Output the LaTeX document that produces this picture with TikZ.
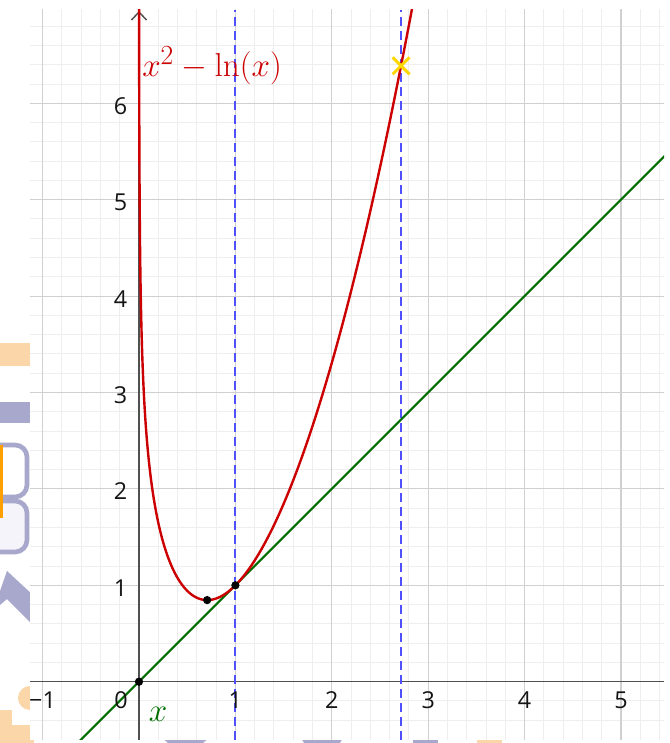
\documentclass[tikz,border=0pt]{standalone}
\usepackage{fontspec}
\newfontfamily\ticksfont{Open Sans}
\usetikzlibrary{shapes.misc}
\definecolor{fred}{RGB}{204,0,0}
\definecolor{fgreen}{RGB}{0,110,0}
\definecolor{fblue}{RGB}{80,80,255}
\definecolor{fyellow}{RGB}{255,215,0}
\definecolor{majorc}{RGB}{208,208,208}
\definecolor{minorc}{RGB}{238,238,238}
\definecolor{axisc}{RGB}{80,80,80}
\definecolor{ticktext}{RGB}{20,20,20}
\definecolor{artorange}{RGB}{250,214,168}
\definecolor{artpurple}{RGB}{168,168,204}
\definecolor{artlav}{RGB}{244,244,250}
\definecolor{artbright}{RGB}{255,160,0}
\begin{document}
\begin{tikzpicture}[x=72.3pt,y=72.3pt,
  pxscope/.style={x=0.75pt,y=-0.75pt,shift={(-104.25pt,511.275pt)}},
  minorgrid/.style={draw=minorc, line width=0.75pt},
  majorgrid/.style={draw=majorc, line width=0.8pt},
  axisline/.style={draw=axisc, line width=1.1pt},
  ticklab/.style={font=\ticksfont\fontsize{17.5}{20}\selectfont, text=ticktext, inner sep=0pt},
  fcurve/.style={draw=fred, line width=1.8pt, line join=round},
  gline/.style={draw=fgreen, line width=1.6pt},
  vdash/.style={draw=fblue, line width=1.5pt, dash pattern=on 6.75pt off 3.75pt},
  dot/.style={circle, fill=black, inner sep=0pt, minimum size=6.2pt},
  xmark/.style={cross out, draw=fyellow, line width=2.2pt, inner sep=0pt, minimum size=10.5pt},
  biglab/.style={font=\fontsize{24.88}{30}\selectfont, inner sep=0pt}]
% ---------- background and stray shapes at the left and bottom ----------
\begin{scope}[pxscope]
  \useasboundingbox (0,0) rectangle (670,743);
  \fill[white] (0,0) rectangle (670,743);
  \fill[artorange] (0,343) rectangle (34,366);
  \fill[artpurple] (0,402) rectangle (34,423);
  \draw[artpurple, line width=3.5pt, fill=white, rounded corners=9pt] (-20,445) rectangle (27,497);
  \draw[artpurple, line width=3.5pt, fill=artlav, rounded corners=9pt] (-20,501) rectangle (27,552);
  \fill[artbright] (0,445) rectangle (3,518);
  \fill[artpurple] (0,591) -- (7,571) -- (34,596) -- (34,626) -- (7,599) -- (0,605) -- cycle;
  \fill[artorange] (30,698) circle[radius=9pt];
  \fill[artorange] (0,710) -- (12,710) -- (12,725) -- (34,725) -- (34,743) -- (0,743) -- cycle;
  \fill[artpurple] (160,736) -- (211,736) -- (203,743) -- (168,743) -- cycle;
  \fill[artpurple] (300,736) -- (344,736) -- (340,743) -- (304,743) -- cycle;
  \fill[artpurple] (413,736) rectangle (438,743);
  \fill[artorange] (477,736) rectangle (502,743);
\end{scope}
% ---------- graph panel ----------
\fill[white] (-1.1307,-0.6006) rectangle (5.4461,6.9678);
\begin{scope}
  \clip (-1.1307,-0.6006) rectangle (5.4461,6.9678);
  \foreach \i in {-5,...,27} \draw[minorgrid] ({\i*0.2},-0.7) -- ({\i*0.2},7.1);
  \foreach \j in {-2,...,34} \draw[minorgrid] (-1.2,{\j*0.2}) -- (5.5,{\j*0.2});
  \foreach \i in {-1,...,5} \draw[majorgrid] (\i,-0.7) -- (\i,7.1);
  \foreach \j in {1,...,6} \draw[majorgrid] (-1.2,\j) -- (5.5,\j);
  % axes
  \coordinate (xl) at (-1.1307,0);
  \coordinate (xr) at (5.4461,0);
  \coordinate (yb) at (0,-0.6006);
  \coordinate (yt) at (0,6.947);
  \draw[axisline] (xl) -- (xr);
  \draw[axisline] (yb) -- (yt);
  \draw[axisline, line join=miter] ([shift={(-0.078,-0.083)}]yt) -- (yt) -- ([shift={(0.078,-0.083)}]yt);
  % dashed verticals x=1 and x=e
  \coordinate (dab) at (1.0,-0.6006);
  \coordinate (dat) at (1.0,6.9678);
  \coordinate (dbb) at ({exp(1)},-0.6006);
  \coordinate (dbt) at ({exp(1)},6.9678);
  \draw[vdash] (dab) -- (dat);
  \draw[vdash] (dbb) -- (dbt);
  % line y = x
  \coordinate (g1) at (-0.65,-0.65);
  \coordinate (g2) at (5.5,5.5);
  \draw[gline] (g1) -- (g2);
  % curve x^2 - ln x
  \draw[fcurve] plot[domain=-7.3:1.06, samples=700, variable=\t] ({exp(\t)},{exp(2*\t)-\t});
\end{scope}
% points
\node[dot] (O) at (0,0) {};
\node[dot] (P) at (1,1) {};
\node[dot] (M) at ({1/sqrt(2)},{0.5+ln(2)/2}) {};
\node[xmark] (E) at ({exp(1)},{exp(2)-1}) {};
% tick labels
\node[ticklab, anchor=base] (tm1) at (-1.001,-0.283) {−1};
\node[ticklab, anchor=base] (t0) at (-0.187,-0.283) {0};
\foreach \k in {1,...,5} \node[ticklab, anchor=base] (tx\k) at (\k,-0.283) {\k};
\foreach \k in {1,...,6} \node[ticklab, anchor=base east] (ty\k) at (-0.119,{\k-0.115}) {\k};
% function labels
\node[biglab, anchor=base west, text=fred] (flab) at (0.031,6.273) {$x^2-\ln(x)$};
\node[biglab, anchor=base, text=fgreen] (glab) at (0.197,-0.418) {$x$};
\end{tikzpicture}
\end{document}
